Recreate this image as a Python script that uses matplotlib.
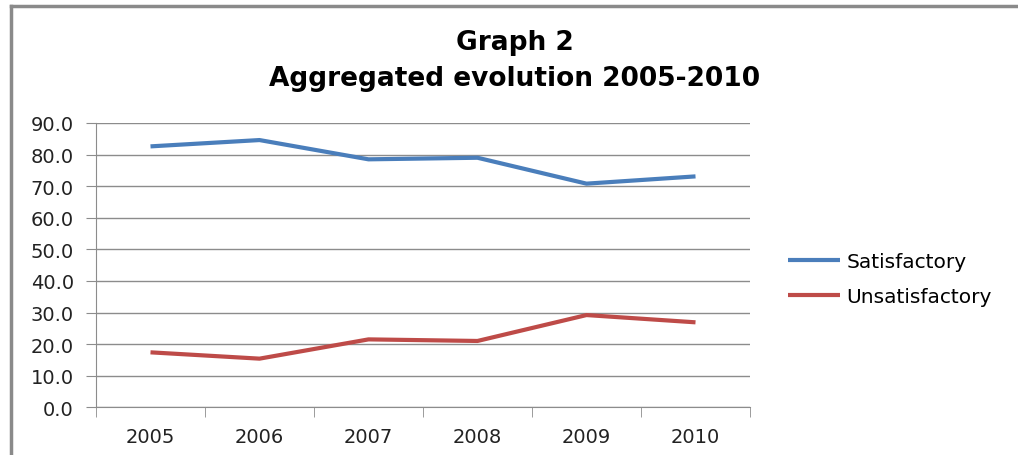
import numpy as np
import matplotlib.pyplot as plt
from matplotlib.lines import Line2D

years = ['2005', '2006', '2007', '2008', '2009', '2010']
satisfactory = [82.6, 84.6, 78.5, 79.0, 70.8, 73.1]
unsatisfactory = [17.4, 15.4, 21.5, 21.0, 29.2, 26.9]

W, H = 1018, 456
fig = plt.figure(figsize=(W / 100, H / 100), dpi=100)
ax = fig.add_axes([96 / W, 1 - 408.3 / H, (750 - 96) / W, (408.3 - 124) / H])

x = np.arange(len(years))
ax.plot(x, satisfactory, color='#4a7ebb', lw=3, label='Satisfactory', solid_capstyle='butt')
ax.plot(x, unsatisfactory, color='#be4b48', lw=3, label='Unsatisfactory', solid_capstyle='butt')

ax.set_xlim(-0.5, len(years) - 0.5)
ax.set_ylim(0, 90)
ax.set_yticks(np.arange(0, 91, 10))
ax.set_yticklabels(['{:0.1f}'.format(v) for v in np.arange(0, 91, 10)])
ax.yaxis.grid(True, color='#8c8c8c', lw=1)
ax.set_axisbelow(True)

# category labels at centres, tick marks at the boundaries
ax.set_xticks(x)
ax.set_xticklabels(years)
ax.tick_params(axis='x', which='major', length=0, pad=14)
ax.set_xticks(np.arange(-0.5, len(years)), minor=True)
ax.tick_params(axis='x', which='minor', length=7, color='#8c8c8c', direction='out')
ax.tick_params(axis='y', length=7, color='#8c8c8c', pad=9)
ax.tick_params(labelsize=14, labelcolor='#222222')

for s in ['top', 'right']:
    ax.spines[s].set_visible(False)
for s in ['left', 'bottom']:
    ax.spines[s].set_color('#8c8c8c')

fig.text(515 / W, 1 - 43 / H, 'Graph 2', ha='center', va='center',
         fontsize=19, fontweight='bold', family='DejaVu Sans')
fig.text(515 / W, 1 - 79 / H, 'Aggregated evolution 2005-2010', ha='center', va='center',
         fontsize=19, fontweight='bold', family='DejaVu Sans')

fig.legend(loc='center left', bbox_to_anchor=(788 / W, 1 - 280 / H), frameon=False,
           fontsize=14.5, handlelength=2.6, handletextpad=0.3, labelspacing=0.8,
           borderpad=0, borderaxespad=0)

# outer chart border (top and left visible)
fig.add_artist(Line2D([11 / W, 1], [1 - 6.5 / H, 1 - 6.5 / H], color='#8a8a8a', lw=2.5,
                      transform=fig.transFigure))
fig.add_artist(Line2D([11 / W, 11 / W], [0, 1 - 6.5 / H], color='#8a8a8a', lw=2.5,
                      transform=fig.transFigure))

fig.savefig('out.png', dpi=100)
